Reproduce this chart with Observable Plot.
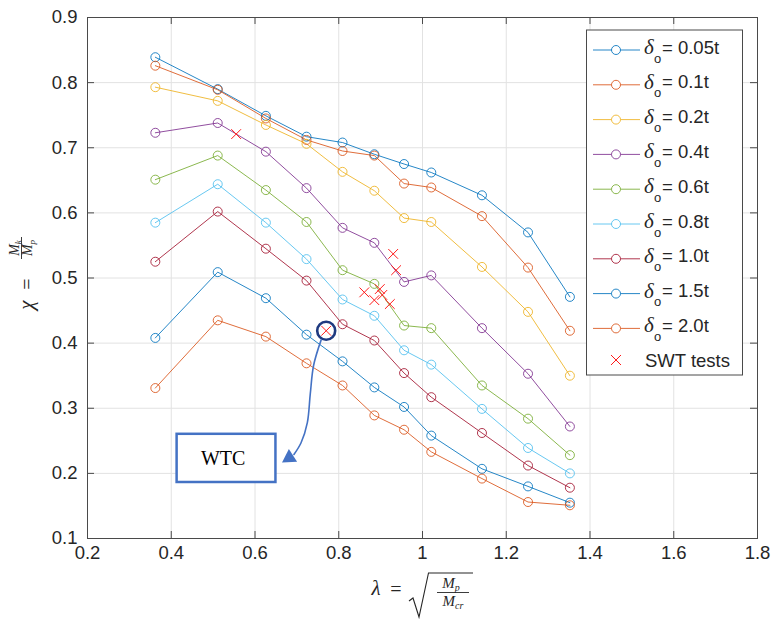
<!DOCTYPE html>
<html><head><meta charset="utf-8">
<script src="https://cdn.jsdelivr.net/npm/d3@7"></script>
<script src="https://cdn.jsdelivr.net/npm/@observablehq/plot@0.6"></script>
<style>
html,body{margin:0;padding:0;background:#fff;}
#chart{width:774px;height:620px;}
</style></head><body><div id="chart"></div>
<script>
// ---- data ----
const lambda = [0.362, 0.511, 0.626, 0.723, 0.809, 0.885, 0.956, 1.021, 1.142, 1.252, 1.352];
const seriesLabels = ["0.05t", "0.1t", "0.2t", "0.4t", "0.6t", "0.8t", "1.0t", "1.5t", "2.0t"];
const chi005 = [0.839, 0.790, 0.749, 0.717, 0.708, 0.690, 0.675, 0.662, 0.627, 0.570, 0.471];
const chi01  = [0.826, 0.789, 0.745, 0.712, 0.695, 0.688, 0.645, 0.639, 0.595, 0.516, 0.419];
const chi02  = [0.793, 0.772, 0.735, 0.706, 0.663, 0.634, 0.592, 0.586, 0.517, 0.448, 0.350];
const chi04  = [0.723, 0.738, 0.694, 0.638, 0.577, 0.554, 0.494, 0.504, 0.423, 0.353, 0.272];
const chi06  = [0.651, 0.688, 0.635, 0.586, 0.512, 0.491, 0.427, 0.423, 0.335, 0.284, 0.228];
const chi08  = [0.585, 0.644, 0.585, 0.529, 0.467, 0.442, 0.389, 0.367, 0.299, 0.239, 0.200];
const chi10  = [0.525, 0.602, 0.545, 0.496, 0.429, 0.404, 0.354, 0.317, 0.262, 0.212, 0.178];
const chi15  = [0.408, 0.509, 0.469, 0.413, 0.372, 0.332, 0.302, 0.258, 0.207, 0.180, 0.155];
const chi20  = [0.331, 0.435, 0.410, 0.369, 0.335, 0.289, 0.267, 0.233, 0.192, 0.156, 0.151];
const swtLambda = [0.555, 0.861, 0.898, 0.904, 0.885, 0.922, 0.930, 0.937, 0.770];
const swtChi    = [0.721, 0.478, 0.483, 0.474, 0.466, 0.460, 0.537, 0.512, 0.419];
const wtcLambda = [0.770];
const wtcChi    = [0.419];
const xTicks = [0.2, 0.4, 0.6, 0.8, 1.0, 1.2, 1.4, 1.6, 1.8];
const yTicks = [0.1, 0.2, 0.3, 0.4, 0.5, 0.6, 0.7, 0.8, 0.9];

// ---- build tables ----
const colors = ["#0072BD", "#D95319", "#EDB120", "#7E2F8E", "#77AC30", "#4DBEEE", "#A2142F", "#0072BD", "#D95319"];
const seriesValues = [chi005, chi01, chi02, chi04, chi06, chi08, chi10, chi15, chi20];
const rows = seriesLabels.flatMap((s, k) => lambda.map((l, i) => ({lambda: l, chi: seriesValues[k][i], series: s})));
const swt = swtLambda.map((l, i) => ({lambda: l, chi: swtChi[i]}));
const wtc = wtcLambda.map((l, i) => ({lambda: l, chi: wtcChi[i]}));

// annotation geometry (in data coordinates)
const annBox = [{x1: 0.414, x2: 0.650, y1: 0.186, y2: 0.260, tx: 0.524, ty: 0.222}];
const annArrow = [
  {x: 0.758, y: 0.405}, {x: 0.740, y: 0.366}, {x: 0.732, y: 0.322},
  {x: 0.725, y: 0.278}, {x: 0.710, y: 0.247}, {x: 0.693, y: 0.229}
];
const annHead = [{x: 0.682, y: 0.224}];

const fmt = d => String(+d.toFixed(1));
const ink = "#262626";
const axisInk = "#4a4a4a";
const serif = "'Liberation Serif', 'Times New Roman', serif";
const sans = "'Liberation Sans', Arial, Helvetica, sans-serif";
const W = 774, H = 620, mT = 17, mR = 17, mB = 82, mL = 87;
const frameW = W - mL - mR, frameH = H - mT - mB, tickLen = 7;

const plot = Plot.plot({
  width: W, height: H,
  marginTop: mT, marginRight: mR, marginBottom: mB, marginLeft: mL,
  style: {background: "#fff", color: ink, fontFamily: sans, fontSize: "18.5px", overflow: "visible"},
  x: {domain: [0.2, 1.8]},
  y: {domain: [0.1, 0.9]},
  color: {domain: seriesLabels, range: colors},
  marks: [
    Plot.gridX(xTicks, {stroke: "#e2e2e2", strokeOpacity: 1, strokeWidth: 1}),
    Plot.gridY(yTicks, {stroke: "#e2e2e2", strokeOpacity: 1, strokeWidth: 1}),
    Plot.line(rows, {x: "lambda", y: "chi", z: "series", stroke: "series", strokeWidth: 1, strokeOpacity: 0.85}),
    Plot.dot(rows, {x: "lambda", y: "chi", stroke: "series", r: 4.5, strokeWidth: 1, fill: "none", strokeOpacity: 0.85}),
    Plot.dot(swt, {x: "lambda", y: "chi", symbol: "times", r: 4.5, stroke: "#ff1a1a", strokeWidth: 1}),
    Plot.dot(wtc, {x: "lambda", y: "chi", r: 9, stroke: "#1f3a80", strokeWidth: 2.6, fill: "none"}),
    Plot.line(annArrow, {x: "x", y: "y", curve: "catmull-rom", stroke: "#4472C4", strokeWidth: 1.6}),
    Plot.dot(annHead, {x: "x", y: "y", symbol: "triangle", r: 5.6, rotate: -123, fill: "#4472C4", stroke: "none"}),
    Plot.rect(annBox, {x1: "x1", x2: "x2", y1: "y1", y2: "y2", stroke: "#4472C4", strokeWidth: 2.5, fill: "#fff"}),
    Plot.text(annBox, {x: "tx", y: "ty", text: () => "WTC", fontFamily: serif, fontSize: 20, fill: "#000"}),
    Plot.frame({stroke: axisInk, strokeWidth: 1}),
    // inward tick marks on all four sides
    Plot.tickX(xTicks, {x: d => d, stroke: axisInk, insetTop: frameH - tickLen}),
    Plot.tickX(xTicks, {x: d => d, stroke: axisInk, insetBottom: frameH - tickLen}),
    Plot.tickY(yTicks, {y: d => d, stroke: axisInk, insetRight: frameW - tickLen}),
    Plot.tickY(yTicks, {y: d => d, stroke: axisInk, insetLeft: frameW - tickLen}),
    Plot.axisX(xTicks, {anchor: "bottom", tickSize: 0, tickPadding: 7, tickFormat: fmt, label: null}),
    Plot.axisY(yTicks, {anchor: "left", tickSize: 0, tickPadding: 10, tickFormat: fmt, label: null})
  ]
});
document.getElementById("chart").appendChild(plot);

// ---- legend & math axis labels ----
const svg = d3.select(plot);
const lg = svg.append("g").attr("class", "legend").attr("text-anchor", "start");
lg.append("rect").attr("x", 586.5).attr("y", 30).attr("width", 156).attr("height", 345)
  .attr("fill", "#fff").attr("stroke", axisInk).attr("stroke-width", 1);
seriesLabels.forEach((s, i) => {
  const y = 50 + i * 34.8;
  const c = colors[i];
  lg.append("line").attr("x1", 593).attr("x2", 640).attr("y1", y).attr("y2", y)
    .attr("stroke", c).attr("stroke-width", 1).attr("stroke-opacity", 0.85);
  lg.append("circle").attr("cx", 616).attr("cy", y).attr("r", 4.5)
    .attr("fill", "#fff").attr("stroke", c).attr("stroke-width", 1).attr("stroke-opacity", 0.85);
  lg.append("text").attr("x", 644).attr("y", y + 4).attr("font-family", serif)
    .attr("font-style", "italic").attr("font-size", 21).attr("fill", ink).text("δ");
  lg.append("text").attr("x", 654).attr("y", y + 12.5).attr("font-family", sans)
    .attr("font-size", 13).attr("fill", ink).text("o");
  lg.append("text").attr("x", 662).attr("y", y + 3.5).attr("font-family", sans)
    .attr("font-size", 18.5).attr("fill", ink).text("= " + s);
});
{
  const y = 360;
  lg.append("path").attr("d", `M611,${y - 5}L621,${y + 5}M611,${y + 5}L621,${y - 5}`)
    .attr("stroke", "#ff1a1a").attr("stroke-width", 1);
  lg.append("text").attr("x", 645).attr("y", y + 6.5).attr("font-family", sans)
    .attr("font-size", 18.5).attr("fill", ink).text("SWT tests");
}

// x label: λ = sqrt(Mp / Mcr)
const xl = svg.append("g").attr("fill", ink).attr("font-family", serif).attr("text-anchor", "middle");
xl.append("text").attr("x", 376).attr("y", 595)
  .attr("font-style", "italic").attr("font-size", 21).text("λ");
xl.append("text").attr("x", 396).attr("y", 596)
  .attr("font-size", 20).text("=");
xl.append("path").attr("d", "M409,601L413,598L419,617L428.5,573L473,573")
  .attr("fill", "none").attr("stroke", ink).attr("stroke-width", 1.1);
const num = xl.append("text").attr("x", 451).attr("y", 588)
  .attr("font-style", "italic").attr("font-size", 15);
num.append("tspan").text("M");
num.append("tspan").attr("font-size", 10).attr("dy", 3).text("p");
xl.append("line").attr("x1", 437).attr("x2", 469).attr("y1", 592.5).attr("y2", 592.5)
  .attr("stroke", ink).attr("stroke-width", 0.9);
const den = xl.append("text").attr("x", 453).attr("y", 606)
  .attr("font-style", "italic").attr("font-size", 15);
den.append("tspan").text("M");
den.append("tspan").attr("font-size", 10).attr("dy", 3).text("cr");

// y label: χ = Mk / Mp (rotated)
const yl = svg.append("g").attr("fill", ink).attr("font-family", serif)
  .attr("text-anchor", "middle").attr("transform", "rotate(-90)");
yl.append("text").attr("x", -305).attr("y", 33)
  .attr("font-style", "italic").attr("font-size", 21).text("χ");
yl.append("text").attr("x", -284).attr("y", 34)
  .attr("font-size", 20).text("=");
const yn = yl.append("text").attr("x", -248).attr("y", 18.5)
  .attr("font-style", "italic").attr("font-size", 14);
yn.append("tspan").text("M");
yn.append("tspan").attr("font-size", 9).attr("dy", 2.5).text("k");
yl.append("line").attr("x1", -259).attr("x2", -237).attr("y1", 21.5).attr("y2", 21.5)
  .attr("stroke", ink).attr("stroke-width", 0.9);
const yd = yl.append("text").attr("x", -248).attr("y", 32)
  .attr("font-style", "italic").attr("font-size", 14);
yd.append("tspan").text("M");
yd.append("tspan").attr("font-size", 9).attr("dy", 2.5).text("p");
</script>
</body></html>
